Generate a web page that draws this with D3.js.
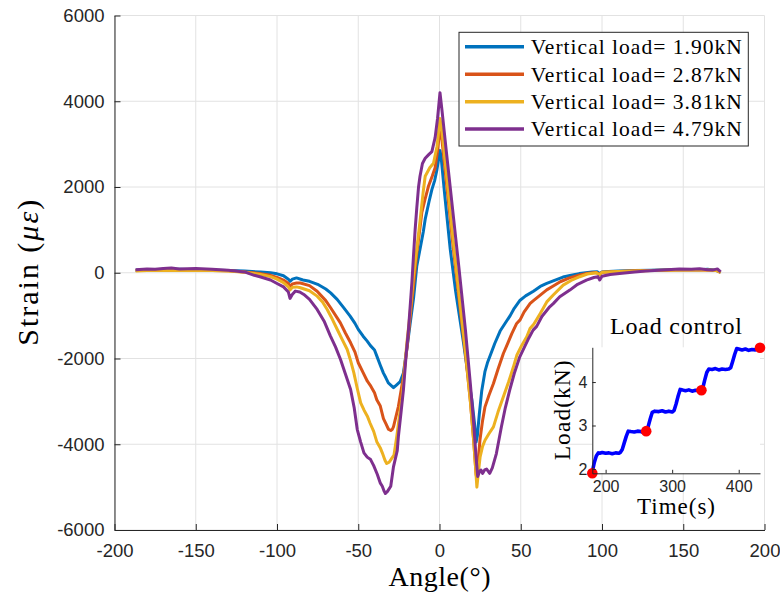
<!DOCTYPE html>
<html><head><meta charset="utf-8">
<script src="https://cdn.jsdelivr.net/npm/d3@7"></script>
<style>body{margin:0;background:#fff}svg{display:block}</style>
</head><body>
<svg id="c" width="780" height="595"></svg>
<script>
// ---------- data ----------
const xTicks = [-200,-150,-100,-50,0,50,100,150,200];
const yTicks = [-6000,-4000,-2000,0,2000,4000,6000];
const seriesNames = ["Vertical load= 1.90kN","Vertical load= 2.87kN","Vertical load= 3.81kN","Vertical load= 4.79kN"];
const seriesColors = ["#0072BD","#D95319","#EDB120","#7E2F8E"];

const angle190 = [-187,-180,-170,-160,-150,-140,-130,-120,-110,-104,-100,-96,-93,-92,-90.5,-88,-84,-80,-75,-70,-67,-63,-59,-55,-52,-50,-47,-44.5,-42.5,-40,-38.5,-36.5,-34.5,-33,-31.5,-30,-28.3,-26.5,-24.2,-22.2,-20,-18,-16,-14,-12,-10,-8.8,-6.5,-4.7,-3,-1.6,0.3,1,3,6.6,10,14.8,18,19.9,21.5,22.5,23.3,24.5,26,28,29.5,31.5,34,37.3,40,43.5,46,49.6,53,57.8,62,66,70,76,81,86,90,94,97,98.5,100,104,110,120,130,140,150,160,165,170,173];
const strain190 = [60,75,70,80,70,60,55,40,15,0,-25,-70,-150,-200,-150,-120,-170,-200,-270,-380,-470,-620,-815,-1010,-1180,-1320,-1480,-1595,-1700,-1800,-1950,-2150,-2340,-2450,-2570,-2620,-2680,-2620,-2540,-2340,-1750,-1170,-600,150,550,950,1250,1650,1940,2150,2400,2850,2700,1900,550,-450,-1640,-2500,-2960,-3500,-3950,-3800,-3300,-2750,-2300,-2100,-1900,-1650,-1360,-1200,-1000,-830,-640,-540,-430,-320,-250,-190,-100,-60,-20,0,20,25,-20,20,30,40,50,60,70,75,70,80,60,10];

const angle287 = [-187,-180,-170,-160,-150,-140,-130,-120,-110,-104,-100,-96,-93,-92,-90.5,-88,-85.6,-80,-75.3,-70,-67,-61,-58,-54.7,-52,-50,-47,-44.4,-42.7,-40,-38.6,-36.5,-34.5,-33,-31.4,-30,-29,-28.3,-25.3,-22.2,-20,-18,-16,-14,-12,-10.9,-9,-6.8,-4.5,-2.7,-1,0.3,1.5,4,8,12,16,19,21,22.5,23,24,24.9,26.5,28,30.5,33.2,36,39.3,41.4,44.5,47.5,49.6,52,55.8,57.8,62,66,70,74.3,80,86.3,90,96.5,98.5,100,110,120,130,140,150,160,170,173];
const strain287 = [50,65,60,70,60,55,45,20,-20,-60,-110,-170,-250,-320,-260,-240,-240,-300,-430,-650,-817,-1170,-1400,-1634,-1850,-2100,-2330,-2530,-2620,-2800,-2960,-3100,-3400,-3520,-3650,-3680,-3650,-3590,-3120,-2420,-1750,-1014,-300,450,1050,1400,1700,2016,2250,2450,2900,3400,3100,2200,750,-600,-1900,-3000,-3900,-4700,-4800,-4300,-3900,-3450,-3128,-2850,-2583,-2250,-1883,-1700,-1420,-1182,-1100,-920,-716,-650,-520,-400,-310,-210,-120,-54,-20,8,-40,10,30,45,55,60,70,65,60,10];

const angle381 = [-187,-180,-170,-160,-150,-140,-130,-120,-110,-104,-100,-96,-93,-92,-90.5,-88,-85.6,-80,-75.3,-72,-69.1,-66,-62.9,-60,-56.8,-54.7,-52.7,-50.6,-48.5,-46.5,-44.4,-42.7,-40.5,-38.6,-36.5,-35.2,-33.5,-32.5,-31,-29.4,-28,-26.3,-24.5,-23.2,-21.5,-20.1,-18,-16,-14,-12,-10,-8.8,-6,-3.7,-1.5,0.3,1.5,4,8,12,16,19,21,22.3,23,23.8,25,26.5,28,30.5,33.2,36,39.3,42.5,45.5,47.6,50.5,53.7,55.7,58,62,66,70,76.1,81,86.3,91,96.5,98.5,100,110,120,130,140,150,160,170,173];
const strain381 = [40,55,50,60,55,50,40,10,-40,-90,-150,-230,-330,-400,-340,-330,-350,-420,-545,-680,-856,-1080,-1323,-1550,-1789,-2050,-2334,-2700,-3034,-3200,-3345,-3510,-3700,-3940,-4080,-4200,-4380,-4450,-4420,-4330,-4250,-3820,-3300,-2960,-2250,-1640,-900,-78,546,1200,1900,2250,2450,2555,2950,3600,3300,2400,900,-500,-1850,-3000,-3900,-4600,-5000,-4700,-4294,-4050,-3906,-3750,-3594,-3250,-2894,-2550,-2194,-1920,-1700,-1494,-1300,-1200,-950,-680,-520,-288,-180,-93,-30,0,-50,10,30,40,50,60,65,70,55,10];

const angle479 = [-187,-180,-175,-170,-165,-160,-150,-140,-130,-120,-114,-110,-104,-100,-96,-93,-92,-90.5,-88.7,-86,-83.5,-80,-75.3,-71,-67.1,-64,-60.9,-58,-54.7,-52.5,-50.6,-48.5,-46.5,-44.5,-42.4,-40.5,-38.3,-36.5,-35.2,-34,-33.3,-32,-30,-28.3,-26,-25.3,-23.5,-22.2,-20.5,-19.1,-17,-16,-15,-14,-12.9,-12,-10.5,-8.8,-6.5,-4.7,-2.7,-1.2,0.3,1.5,4,8,12,16,19,21,22.5,23.5,24.5,25.5,26.5,27.8,29,30.9,32.5,35,38.1,40.5,43.2,46,49.4,52.7,55,57.6,59.8,63,67.8,70,74,80.2,85,90.4,95,97.5,98.6,100,105,110.8,120,127,135,147.6,155,160,165,168,171,173];
const strain479 = [70,90,80,100,110,90,100,80,60,20,-60,-100,-170,-250,-330,-450,-598,-500,-428,-450,-506,-620,-856,-1130,-1478,-1730,-2023,-2350,-2723,-3150,-3657,-3950,-4201,-4300,-4357,-4500,-4700,-4900,-4979,-5100,-5150,-5100,-4979,-4520,-4150,-3820,-3200,-2730,-1900,-1330,-234,400,1000,1500,2000,2250,2550,2670,2760,2825,3150,3600,4200,3800,2900,1500,100,-1350,-2600,-3500,-4300,-4750,-4650,-4600,-4680,-4600,-4580,-4680,-4550,-4217,-3594,-3150,-2740,-2350,-1960,-1700,-1520,-1338,-1250,-1020,-794,-720,-560,-405,-270,-171,-110,-90,-170,-80,-40,-16,20,39,60,86,80,95,70,62,90,23];

// inset: load control
const insetXTicks = [200,300,400];
const insetYTicks = [2,3,4];
const loadTime = [180,181,183,186,189,191,195,200,205,210,215,220,222,225,228,231,234,238,243,248,253,256,258,261,264,267,270,274,280,285,290,295,300,303,306,309,312,315,320,325,330,335,340,344,346,349,352,355,360,365,370,375,380,385,388,391,394,397,400,405,410,415,420,425,428,432];
const loadValue = [1.90,2.00,2.15,2.30,2.37,2.36,2.38,2.36,2.37,2.35,2.37,2.36,2.38,2.45,2.60,2.75,2.87,2.86,2.85,2.87,2.86,2.84,2.86,2.87,2.98,3.15,3.30,3.33,3.32,3.34,3.31,3.33,3.31,3.35,3.50,3.68,3.83,3.82,3.80,3.82,3.79,3.81,3.80,3.81,3.86,4.05,4.22,4.30,4.29,4.31,4.28,4.30,4.29,4.30,4.33,4.48,4.64,4.77,4.76,4.74,4.76,4.73,4.75,4.74,4.76,4.79];
const markTime = [180,261,344,432];
const markLoad = [1.90,2.87,3.81,4.79];

// ---------- drawing ----------
const svg = d3.select("#c");
const AX = "#262626";
const sans = "'Liberation Sans', Arial, Helvetica, sans-serif";
const serif = "'Liberation Serif', 'Times New Roman', serif";

const x = d3.scaleLinear().domain([-200,200]).range([114.5,764.5]);
const y = d3.scaleLinear().domain([-6000,6000]).range([530,15.5]);

// grid
const grid = svg.append("g").attr("stroke","#e2e2e2").attr("stroke-width",1);
grid.selectAll("line.v").data(xTicks).join("line")
  .attr("x1",d=>x(d)).attr("x2",d=>x(d)).attr("y1",y(-6000)).attr("y2",y(6000));
grid.selectAll("line.h").data(yTicks).join("line")
  .attr("x1",x(-200)).attr("x2",x(200)).attr("y1",d=>y(d)).attr("y2",d=>y(d));

// series
const allSeries = [[angle190,strain190],[angle287,strain287],[angle381,strain381],[angle479,strain479]];
const line = d3.line().x(d=>x(d[0])).y(d=>y(d[1]));
allSeries.forEach((s,i)=>{
  const pts = s[0].map((a,j)=>[a,s[1][j]]);
  svg.append("path").datum(pts).attr("d",line).attr("fill","none")
    .attr("stroke",seriesColors[i]).attr("stroke-width",3).attr("stroke-linejoin","round");
});

// axes
const xAxis = svg.append("g").attr("transform",`translate(0,${y(-6000)})`)
  .call(d3.axisBottom(x).tickValues(xTicks).tickFormat(d=>String(d)).tickSizeInner(-6).tickSizeOuter(0).tickPadding(14));
const yAxis = svg.append("g").attr("transform",`translate(${x(-200)},0)`)
  .call(d3.axisLeft(y).tickValues(yTicks).tickFormat(d=>String(d)).tickSizeInner(-6).tickSizeOuter(0).tickPadding(10));
[xAxis,yAxis].forEach(g=>{
  g.select(".domain").attr("stroke",AX);
  g.selectAll(".tick line").attr("stroke",AX);
  g.selectAll(".tick text").attr("fill",AX).style("font-family",sans).style("font-size","18.5px");
});

// axis labels
svg.append("text").attr("x",x(0)).attr("y",586).attr("text-anchor","middle")
  .style("font-family",serif).style("font-size","28px").attr("fill","#000")
  .attr("textLength",102).attr("lengthAdjust","spacing").text("Angle(°)");
const yl = svg.append("text").attr("transform",`translate(38,${y(0)}) rotate(-90)`).attr("text-anchor","middle")
  .style("font-family",serif).style("font-size","30px").attr("fill","#000")
  .attr("textLength",146).attr("lengthAdjust","spacing");
yl.append("tspan").text("Strain (");
yl.append("tspan").style("font-style","italic").text("με");
yl.append("tspan").text(")");

// legend
const lg = svg.append("g");
lg.append("rect").attr("x",459).attr("y",32.3).attr("width",289.3).attr("height",113.7)
  .attr("fill","#fff").attr("stroke",AX).attr("stroke-width",1);
const legY = [46.7,74.3,101.7,129];
seriesNames.forEach((n,i)=>{
  lg.append("line").attr("x1",465).attr("x2",524).attr("y1",legY[i]).attr("y2",legY[i])
    .attr("stroke",seriesColors[i]).attr("stroke-width",3.5);
  lg.append("text").attr("x",530.7).attr("y",legY[i]+7.3)
    .style("font-family",serif).style("font-size","21.5px").attr("fill","#000")
    .attr("textLength",211).attr("lengthAdjust","spacing").text(n);
});

// inset
const ix = d3.scaleLinear().domain([180,432]).range([592.3,760]);
const iy = d3.scaleLinear().domain([1.9,4.8]).range([473.3,347.3]);
const ig = svg.append("g");
ig.append("rect").attr("x",592.3).attr("y",347.3).attr("width",167.7).attr("height",126).attr("fill","#fff");
const ipts = loadTime.map((t,j)=>[t,loadValue[j]]);
ig.append("path").datum(ipts).attr("d",d3.line().x(d=>ix(d[0])).y(d=>iy(d[1])))
  .attr("fill","none").attr("stroke","#0000FF").attr("stroke-width",3.6).attr("stroke-linejoin","round");
ig.selectAll("circle").data(markTime.map((t,j)=>[t,markLoad[j]])).join("circle")
  .attr("cx",d=>ix(d[0])).attr("cy",d=>iy(d[1])).attr("r",5.3).attr("fill","#FF0000");
const ixa = ig.append("g").attr("transform",`translate(0,473.3)`)
  .call(d3.axisBottom(ix).tickValues(insetXTicks).tickFormat(d=>String(d)).tickSizeInner(-3.5).tickSizeOuter(0).tickPadding(7));
const iya = ig.append("g").attr("transform",`translate(592.3,0)`)
  .call(d3.axisLeft(iy).tickValues(insetYTicks).tickFormat(d=>String(d)).tickSizeInner(-3.5).tickSizeOuter(0).tickPadding(5));
[ixa,iya].forEach(g=>{
  g.select(".domain").attr("stroke",AX);
  g.selectAll(".tick line").attr("stroke",AX);
  g.selectAll(".tick text").attr("fill",AX).style("font-family",sans).style("font-size","16px");
});
ig.append("text").attr("x",676).attr("y",334).attr("text-anchor","middle")
  .style("font-family",serif).style("font-size","24px").attr("fill","#000")
  .attr("textLength",132).attr("lengthAdjust","spacing").text("Load control");
ig.append("text").attr("x",676).attr("y",514).attr("text-anchor","middle")
  .style("font-family",serif).style("font-size","23px").attr("fill","#000")
  .attr("textLength",78).attr("lengthAdjust","spacing").text("Time(s)");
ig.append("text").attr("transform",`translate(570,410.3) rotate(-90)`).attr("text-anchor","middle")
  .style("font-family",serif).style("font-size","23.5px").attr("fill","#000")
  .attr("textLength",100).attr("lengthAdjust","spacing").text("Load(kN)");
</script>
</body></html>
